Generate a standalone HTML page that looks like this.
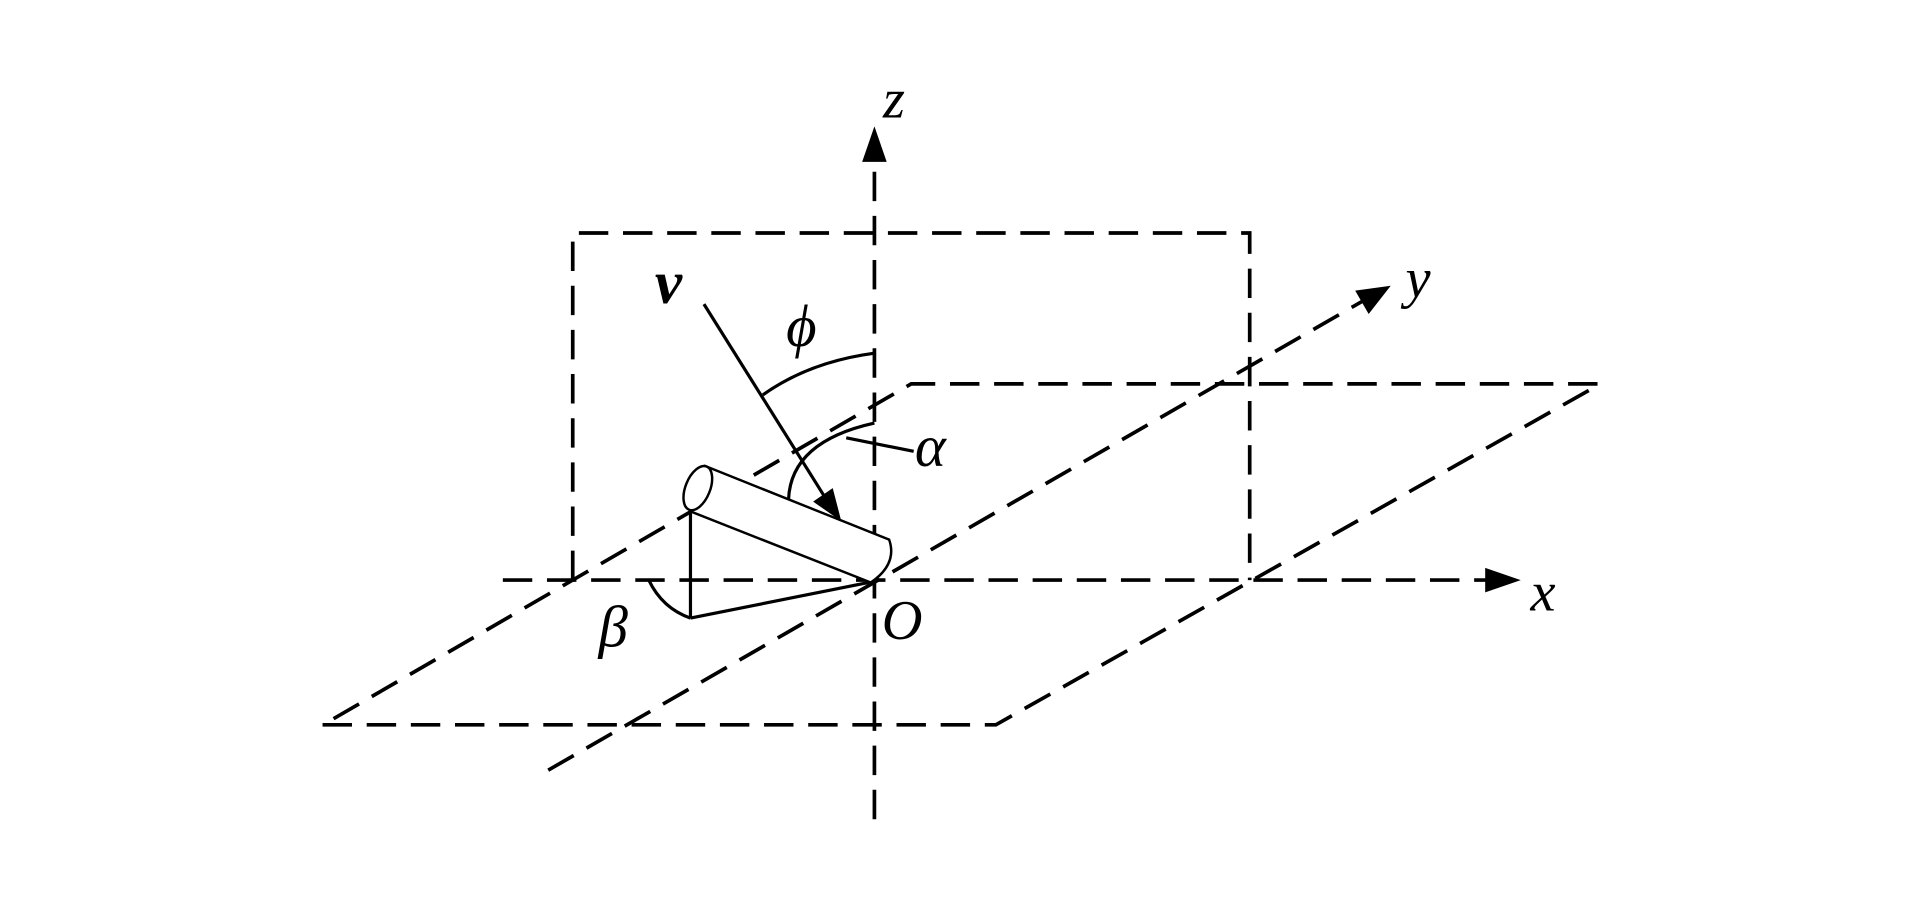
<!DOCTYPE html>
<html><head><meta charset="utf-8"><style>html,body{margin:0;padding:0;background:#fff;}svg{display:block;}</style></head>
<body>
<svg width="1923" height="909" viewBox="0 0 1568 741.2" preserveAspectRatio="none" xmlns="http://www.w3.org/2000/svg">
<g fill="none" stroke="#000" stroke-width="3" stroke-dasharray="24,12">
<line x1="713" y1="668" x2="713" y2="128"/>
<line x1="410" y1="473" x2="1215" y2="473"/>
<line x1="447" y1="628" x2="1112" y2="245"/>
<polyline points="467,473 467,190 1019,190 1019,473"/>
<polyline points="272,586 743,313 1305,313"/>
<polyline points="263,591 812,591 1305,313"/>
</g>
<g fill="#000" stroke="none">
<polygon points="713,103 703,132 723,132"/>
<polygon points="1240,473 1211,463 1211,483"/>
<polygon points="1134,233 1105,237 1116,256"/>
<polygon points="686,425 663,409 679,398"/>
</g>
<g fill="none" stroke="#000" stroke-width="2.6">
<line x1="574" y1="248" x2="673" y2="406"/>
<path d="M622,322 Q660,295 713,288"/>
<path d="M643,407 Q645,360 713,345"/>
<line x1="690" y1="357" x2="745" y2="368"/>
<line x1="563" y1="417" x2="563" y2="504"/>
<line x1="563" y1="504" x2="713" y2="474"/>
<path d="M529,473 Q540,496 563,504"/>
</g>
<g fill="#fff" stroke="#000" stroke-width="2">
<path d="M575,380 L725,440 Q732,460 710,475 L563,417 Z"/>
<ellipse cx="569" cy="398" rx="10" ry="19" transform="rotate(22 569 398)"/>
</g>
<g font-family="'Liberation Serif', serif" font-style="italic" fill="#000">
<text x="720" y="96" font-size="46">z</text>
<text x="1146" y="242" font-size="46">y</text>
<text x="1248" y="498" font-size="46">x</text>
<text x="719" y="521" font-size="46">O</text>
<text x="488" y="527" font-size="48">β</text>
<text x="534" y="247" font-size="50" font-weight="bold">v</text>
<text x="641" y="282" font-size="48">ϕ</text>
<text x="746" y="380" font-size="48">α</text>
</g>
</svg>
</body></html>
